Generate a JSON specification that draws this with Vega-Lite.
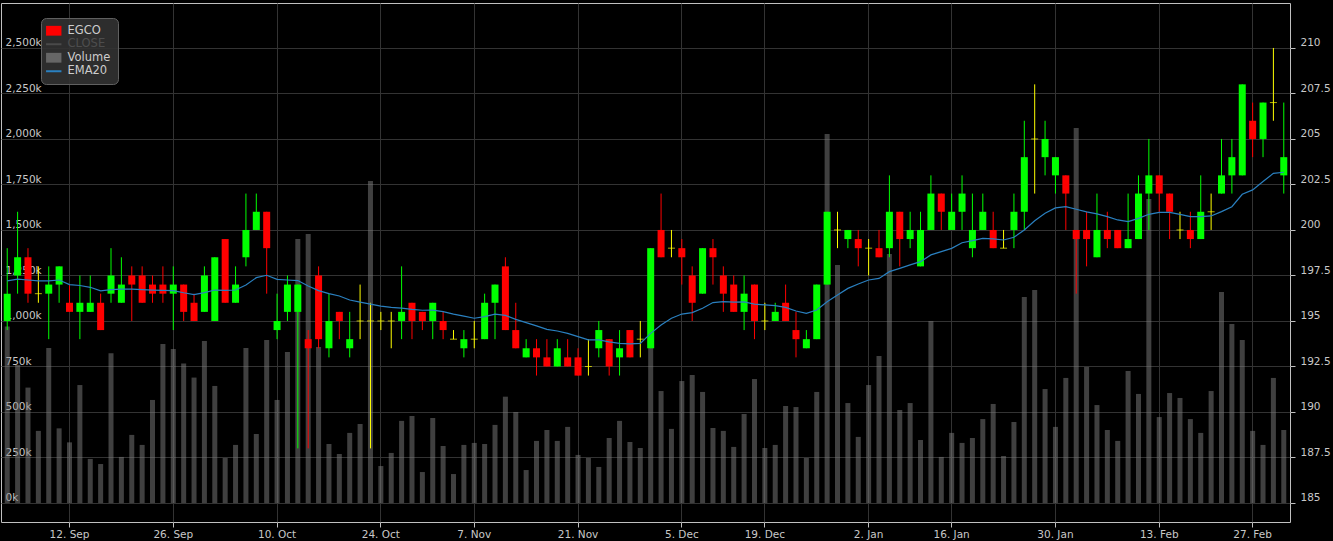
{
  "$schema": "https://vega.github.io/schema/vega-lite/v6.json",
  "width": 1289,
  "height": 519,
  "autosize": {"type": "none"},
  "padding": {"left": 1, "top": 3, "right": 43, "bottom": 19},
  "background": "#000000",
  "config": {
    "view": {"stroke": "#c0c0c0", "strokeWidth": 1},
    "axis": {
      "labelFont": "DejaVu Sans",
      "labelFontSize": 10.5,
      "labelColor": "#c8c8c8",
      "domain": false,
      "gridColor": "#333333",
      "gridWidth": 1,
      "tickColor": "#c0c0c0",
      "tickWidth": 1
    }
  },
  "data": {
    "values": [
      {"date": "2016-09-02", "open": 195, "high": 199, "low": 194.5, "close": 196.5, "volume": 969000, "ema": 197.2},
      {"date": "2016-09-05", "open": 197.5, "high": 201, "low": 196.5, "close": 198.5, "volume": 758000, "ema": 197.3},
      {"date": "2016-09-06", "open": 198.5, "high": 199, "low": 196, "close": 196.5, "volume": 634000, "ema": 197.25},
      {"date": "2016-09-07", "open": 196.5, "high": 198, "low": 196, "close": 196.5, "volume": 396000, "ema": 197.2},
      {"date": "2016-09-08", "open": 196.5, "high": 198, "low": 194, "close": 197, "volume": 852000, "ema": 197.2},
      {"date": "2016-09-09", "open": 197, "high": 198, "low": 196, "close": 198, "volume": 410000, "ema": 197.25},
      {"date": "2016-09-12", "open": 196, "high": 197, "low": 195.5, "close": 195.5, "volume": 333000, "ema": 197.0},
      {"date": "2016-09-13", "open": 195.5, "high": 197.5, "low": 194, "close": 196, "volume": 648000, "ema": 196.95},
      {"date": "2016-09-14", "open": 195.5, "high": 197.5, "low": 195.5, "close": 196, "volume": 242000, "ema": 196.85},
      {"date": "2016-09-15", "open": 196, "high": 196.5, "low": 194.5, "close": 194.5, "volume": 214000, "ema": 196.65},
      {"date": "2016-09-16", "open": 196.5, "high": 199, "low": 196, "close": 197.5, "volume": 822000, "ema": 196.72},
      {"date": "2016-09-19", "open": 196, "high": 198.5, "low": 196, "close": 197, "volume": 253000, "ema": 196.75},
      {"date": "2016-09-20", "open": 197.5, "high": 198, "low": 195, "close": 197, "volume": 374000, "ema": 196.75},
      {"date": "2016-09-21", "open": 197.5, "high": 198, "low": 196, "close": 196, "volume": 319000, "ema": 196.72},
      {"date": "2016-09-22", "open": 197, "high": 197.5, "low": 196, "close": 196.5, "volume": 566000, "ema": 196.7},
      {"date": "2016-09-23", "open": 197, "high": 198, "low": 196, "close": 196.5, "volume": 874000, "ema": 196.68},
      {"date": "2016-09-26", "open": 196.5, "high": 198, "low": 194.5, "close": 197, "volume": 846000, "ema": 196.67},
      {"date": "2016-09-27", "open": 197, "high": 197, "low": 195, "close": 195.5, "volume": 767000, "ema": 196.55},
      {"date": "2016-09-28", "open": 196, "high": 196.5, "low": 195, "close": 195, "volume": 689000, "ema": 196.45},
      {"date": "2016-09-29", "open": 195.5, "high": 198, "low": 195.5, "close": 197.5, "volume": 890000, "ema": 196.56},
      {"date": "2016-09-30", "open": 195, "high": 198.5, "low": 195, "close": 198.5, "volume": 643000, "ema": 196.7},
      {"date": "2016-10-03", "open": 199.5, "high": 199.5, "low": 196, "close": 196, "volume": 247000, "ema": 196.68},
      {"date": "2016-10-04", "open": 196, "high": 198, "low": 196, "close": 197, "volume": 319000, "ema": 196.7},
      {"date": "2016-10-05", "open": 198.5, "high": 202, "low": 198, "close": 200, "volume": 852000, "ema": 196.98},
      {"date": "2016-10-06", "open": 200, "high": 202, "low": 200, "close": 201, "volume": 379000, "ema": 197.38},
      {"date": "2016-10-07", "open": 201, "high": 201, "low": 196.5, "close": 199, "volume": 896000, "ema": 197.51},
      {"date": "2016-10-10", "open": 194.5, "high": 196.5, "low": 194, "close": 195, "volume": 566000, "ema": 197.29},
      {"date": "2016-10-11", "open": 195.5, "high": 197.5, "low": 195, "close": 197, "volume": 830000, "ema": 197.25},
      {"date": "2016-10-12", "open": 195.5, "high": 197, "low": 188, "close": 197, "volume": 1450000, "ema": 197.22},
      {"date": "2016-10-13", "open": 194, "high": 194.5, "low": 188, "close": 193.5, "volume": 1478000, "ema": 196.92},
      {"date": "2016-10-14", "open": 197.5, "high": 198, "low": 193.5, "close": 194, "volume": 857000, "ema": 196.67},
      {"date": "2016-10-17", "open": 193.5, "high": 196.5, "low": 193, "close": 195, "volume": 324000, "ema": 196.5},
      {"date": "2016-10-18", "open": 195.5, "high": 195.5, "low": 194, "close": 195, "volume": 269000, "ema": 196.37},
      {"date": "2016-10-19", "open": 193.5, "high": 195.5, "low": 193, "close": 194, "volume": 385000, "ema": 196.15},
      {"date": "2016-10-20", "open": 195, "high": 197, "low": 194, "close": 195, "volume": 434000, "ema": 196.04},
      {"date": "2016-10-21", "open": 195, "high": 196, "low": 188, "close": 195, "volume": 1769000, "ema": 195.93},
      {"date": "2016-10-25", "open": 195, "high": 195.5, "low": 194.5, "close": 195, "volume": 203000, "ema": 195.82},
      {"date": "2016-10-26", "open": 195, "high": 195.5, "low": 193.5, "close": 195, "volume": 275000, "ema": 195.75},
      {"date": "2016-10-27", "open": 195, "high": 198, "low": 194, "close": 195.5, "volume": 451000, "ema": 195.71},
      {"date": "2016-10-28", "open": 196, "high": 196, "low": 194, "close": 195, "volume": 478000, "ema": 195.64},
      {"date": "2016-10-31", "open": 195.5, "high": 195.5, "low": 194.5, "close": 195, "volume": 170000, "ema": 195.59},
      {"date": "2016-11-01", "open": 195, "high": 196, "low": 194, "close": 196, "volume": 467000, "ema": 195.6},
      {"date": "2016-11-02", "open": 195, "high": 195.5, "low": 194, "close": 194.5, "volume": 313000, "ema": 195.51},
      {"date": "2016-11-03", "open": 194, "high": 194.5, "low": 194, "close": 194, "volume": 159000, "ema": 195.38},
      {"date": "2016-11-04", "open": 193.5, "high": 194.5, "low": 193, "close": 194, "volume": 319000, "ema": 195.27},
      {"date": "2016-11-07", "open": 194, "high": 195, "low": 193.5, "close": 194, "volume": 330000, "ema": 195.15},
      {"date": "2016-11-08", "open": 194, "high": 196.5, "low": 194, "close": 196, "volume": 324000, "ema": 195.24},
      {"date": "2016-11-09", "open": 196, "high": 197, "low": 194, "close": 197, "volume": 429000, "ema": 195.38},
      {"date": "2016-11-10", "open": 198, "high": 198.5, "low": 194.5, "close": 194.5, "volume": 584000, "ema": 195.31},
      {"date": "2016-11-11", "open": 194.5, "high": 196, "low": 193.5, "close": 193.5, "volume": 500000, "ema": 195.09},
      {"date": "2016-11-14", "open": 193, "high": 194, "low": 193, "close": 193.5, "volume": 181000, "ema": 194.91},
      {"date": "2016-11-15", "open": 193.5, "high": 194, "low": 192, "close": 193, "volume": 341000, "ema": 194.73},
      {"date": "2016-11-16", "open": 193, "high": 194, "low": 192.5, "close": 192.5, "volume": 401000, "ema": 194.54},
      {"date": "2016-11-17", "open": 192.5, "high": 194, "low": 192.5, "close": 193.5, "volume": 341000, "ema": 194.45},
      {"date": "2016-11-18", "open": 193, "high": 194, "low": 192.5, "close": 192.5, "volume": 418000, "ema": 194.32},
      {"date": "2016-11-21", "open": 193, "high": 193.5, "low": 192, "close": 192, "volume": 264000, "ema": 194.14},
      {"date": "2016-11-22", "open": 192.5, "high": 194, "low": 192, "close": 192.5, "volume": 247000, "ema": 193.96},
      {"date": "2016-11-23", "open": 193.5, "high": 195, "low": 193, "close": 194.5, "volume": 198000, "ema": 193.96},
      {"date": "2016-11-24", "open": 194, "high": 194, "low": 192, "close": 192.5, "volume": 357000, "ema": 193.85},
      {"date": "2016-11-25", "open": 193, "high": 194.5, "low": 192, "close": 193.5, "volume": 451000, "ema": 193.77},
      {"date": "2016-11-28", "open": 194.5, "high": 194.5, "low": 193, "close": 193, "volume": 335000, "ema": 193.74},
      {"date": "2016-11-29", "open": 194, "high": 195, "low": 193, "close": 194, "volume": 302000, "ema": 193.77},
      {"date": "2016-11-30", "open": 193.5, "high": 199, "low": 193.5, "close": 199, "volume": 860000, "ema": 194.32},
      {"date": "2016-12-01", "open": 200, "high": 202, "low": 198.5, "close": 198.5, "volume": 615000, "ema": 194.78},
      {"date": "2016-12-02", "open": 199, "high": 200, "low": 198.5, "close": 199, "volume": 407000, "ema": 195.15},
      {"date": "2016-12-06", "open": 199, "high": 199.5, "low": 197, "close": 198.5, "volume": 670000, "ema": 195.38},
      {"date": "2016-12-07", "open": 197.5, "high": 198, "low": 195, "close": 196, "volume": 703000, "ema": 195.46},
      {"date": "2016-12-08", "open": 196.5, "high": 199, "low": 196.5, "close": 199, "volume": 610000, "ema": 195.7},
      {"date": "2016-12-09", "open": 199, "high": 199.5, "low": 197, "close": 198.5, "volume": 412000, "ema": 196.01},
      {"date": "2016-12-13", "open": 197.5, "high": 198, "low": 195.5, "close": 196.5, "volume": 396000, "ema": 196.06},
      {"date": "2016-12-14", "open": 197, "high": 197.5, "low": 195.5, "close": 195.5, "volume": 308000, "ema": 196.03},
      {"date": "2016-12-15", "open": 195.5, "high": 197.5, "low": 194.5, "close": 196.5, "volume": 489000, "ema": 196.05},
      {"date": "2016-12-16", "open": 197, "high": 197, "low": 194, "close": 195, "volume": 681000, "ema": 195.93},
      {"date": "2016-12-19", "open": 195, "high": 196, "low": 194.5, "close": 195, "volume": 302000, "ema": 195.88},
      {"date": "2016-12-20", "open": 195, "high": 196, "low": 195, "close": 195.5, "volume": 319000, "ema": 195.84},
      {"date": "2016-12-21", "open": 196, "high": 197, "low": 195, "close": 195, "volume": 533000, "ema": 195.75},
      {"date": "2016-12-22", "open": 194.5, "high": 195.5, "low": 193, "close": 194, "volume": 527000, "ema": 195.55},
      {"date": "2016-12-23", "open": 193.5, "high": 194.5, "low": 193.5, "close": 194, "volume": 247000, "ema": 195.42},
      {"date": "2016-12-26", "open": 194, "high": 197, "low": 194, "close": 197, "volume": 610000, "ema": 195.6},
      {"date": "2016-12-27", "open": 197, "high": 201, "low": 197, "close": 201, "volume": 2027000, "ema": 196.06},
      {"date": "2016-12-28", "open": 200, "high": 201, "low": 199, "close": 200, "volume": 1308000, "ema": 196.43},
      {"date": "2016-12-29", "open": 199.5, "high": 200, "low": 199, "close": 200, "volume": 549000, "ema": 196.79},
      {"date": "2016-12-30", "open": 199.5, "high": 200, "low": 198, "close": 199, "volume": 363000, "ema": 197.03},
      {"date": "2017-01-04", "open": 199, "high": 199.5, "low": 197.5, "close": 199, "volume": 648000, "ema": 197.25},
      {"date": "2017-01-05", "open": 199, "high": 200, "low": 198.5, "close": 198.5, "volume": 807000, "ema": 197.34},
      {"date": "2017-01-06", "open": 199, "high": 203, "low": 198.5, "close": 201, "volume": 1368000, "ema": 197.71},
      {"date": "2017-01-09", "open": 201, "high": 201, "low": 198, "close": 199.5, "volume": 511000, "ema": 197.89},
      {"date": "2017-01-10", "open": 199.5, "high": 201, "low": 199, "close": 200, "volume": 549000, "ema": 198.08},
      {"date": "2017-01-11", "open": 198, "high": 201, "low": 198, "close": 200, "volume": 346000, "ema": 198.26},
      {"date": "2017-01-12", "open": 200, "high": 203, "low": 200, "close": 202, "volume": 1000000, "ema": 198.63},
      {"date": "2017-01-13", "open": 202, "high": 202, "low": 200, "close": 201, "volume": 253000, "ema": 198.81},
      {"date": "2017-01-16", "open": 200, "high": 202, "low": 200, "close": 201, "volume": 385000, "ema": 198.99},
      {"date": "2017-01-17", "open": 201, "high": 203, "low": 200, "close": 202, "volume": 330000, "ema": 199.3},
      {"date": "2017-01-18", "open": 199, "high": 202, "low": 198.5, "close": 200, "volume": 357000, "ema": 199.41},
      {"date": "2017-01-19", "open": 200, "high": 202, "low": 200, "close": 201, "volume": 461000, "ema": 199.54},
      {"date": "2017-01-20", "open": 200, "high": 201, "low": 199, "close": 199, "volume": 544000, "ema": 199.51},
      {"date": "2017-01-23", "open": 199, "high": 200, "low": 199, "close": 199, "volume": 258000, "ema": 199.45},
      {"date": "2017-01-24", "open": 200, "high": 202, "low": 199, "close": 201, "volume": 445000, "ema": 199.6},
      {"date": "2017-01-25", "open": 201, "high": 206, "low": 200, "close": 204, "volume": 1132000, "ema": 200.0},
      {"date": "2017-01-26", "open": 205, "high": 208, "low": 202, "close": 205, "volume": 1170000, "ema": 200.51},
      {"date": "2017-01-27", "open": 204, "high": 206, "low": 203, "close": 205, "volume": 626000, "ema": 200.92},
      {"date": "2017-01-30", "open": 203, "high": 204, "low": 202, "close": 204, "volume": 418000, "ema": 201.21},
      {"date": "2017-01-31", "open": 203, "high": 203, "low": 200, "close": 202, "volume": 687000, "ema": 201.28},
      {"date": "2017-02-01", "open": 200, "high": 200, "low": 196.5, "close": 199.5, "volume": 2060000, "ema": 201.14},
      {"date": "2017-02-02", "open": 200, "high": 201, "low": 198, "close": 199.5, "volume": 747000, "ema": 200.99},
      {"date": "2017-02-03", "open": 198.5, "high": 202, "low": 198.5, "close": 200, "volume": 538000, "ema": 200.88},
      {"date": "2017-02-06", "open": 200, "high": 201, "low": 199, "close": 199.5, "volume": 401000, "ema": 200.73},
      {"date": "2017-02-07", "open": 200, "high": 200, "low": 199, "close": 199, "volume": 341000, "ema": 200.55},
      {"date": "2017-02-08", "open": 199, "high": 202, "low": 199, "close": 199.5, "volume": 725000, "ema": 200.46},
      {"date": "2017-02-09", "open": 199.5, "high": 203, "low": 199.5, "close": 202, "volume": 599000, "ema": 200.64},
      {"date": "2017-02-10", "open": 202, "high": 205, "low": 200, "close": 203, "volume": 1670000, "ema": 200.86},
      {"date": "2017-02-14", "open": 203, "high": 203, "low": 201, "close": 202, "volume": 472000, "ema": 200.97},
      {"date": "2017-02-15", "open": 202, "high": 202, "low": 199.5, "close": 201, "volume": 604000, "ema": 200.97},
      {"date": "2017-02-16", "open": 200, "high": 201, "low": 199.5, "close": 200, "volume": 577000, "ema": 200.86},
      {"date": "2017-02-17", "open": 200, "high": 201, "low": 199, "close": 199.5, "volume": 461000, "ema": 200.73},
      {"date": "2017-02-20", "open": 199.5, "high": 203, "low": 199.5, "close": 201, "volume": 385000, "ema": 200.73},
      {"date": "2017-02-21", "open": 201, "high": 202, "low": 200, "close": 201, "volume": 615000, "ema": 200.77},
      {"date": "2017-02-22", "open": 202, "high": 205, "low": 202, "close": 203, "volume": 1159000, "ema": 201.01},
      {"date": "2017-02-23", "open": 203, "high": 205, "low": 202, "close": 204, "volume": 983000, "ema": 201.28},
      {"date": "2017-02-24", "open": 203, "high": 208, "low": 203, "close": 208, "volume": 896000, "ema": 201.96},
      {"date": "2017-02-27", "open": 206, "high": 207, "low": 204, "close": 205, "volume": 396000, "ema": 202.2},
      {"date": "2017-02-28", "open": 205, "high": 207, "low": 204, "close": 207, "volume": 319000, "ema": 202.66},
      {"date": "2017-03-01", "open": 207, "high": 210, "low": 206, "close": 207, "volume": 687000, "ema": 203.11},
      {"date": "2017-03-02", "open": 203, "high": 207, "low": 202, "close": 204, "volume": 401000, "ema": 203.17}
    ]
  },
  "layer": [
    {
      "mark": {"type": "bar", "size": 5, "color": "#808080", "opacity": 0.5},
      "encoding": {
        "x": {
          "field": "date", "type": "ordinal", "title": null,
          "scale": {"type": "band", "paddingInner": 0, "paddingOuter": 0.1},
          "axis": {
            "orient": "bottom",
            "values": ["2016-09-12", "2016-09-26", "2016-10-10", "2016-10-25", "2016-11-07", "2016-11-21", "2016-12-06", "2016-12-19", "2017-01-04", "2017-01-16", "2017-01-30", "2017-02-14", "2017-02-27"],
            "labelExpr": "({'2016-09-12':'12. Sep','2016-09-26':'26. Sep','2016-10-10':'10. Oct','2016-10-25':'24. Oct','2016-11-07':'7. Nov','2016-11-21':'21. Nov','2016-12-06':'5. Dec','2016-12-19':'19. Dec','2017-01-04':'2. Jan','2017-01-16':'16. Jan','2017-01-30':'30. Jan','2017-02-14':'13. Feb','2017-02-27':'27. Feb'})[datum.value]",
            "labelAngle": 0,
            "grid": true,
            "bandPosition": 0.5,
            "ticks": true,
            "tickSize": 5,
            "labelPadding": 2,
            "labelOverlap": false
          }
        },
        "y": {
          "field": "volume", "type": "quantitative", "title": null,
          "scale": {"domain": [-104500, 2747000], "nice": false, "zero": false},
          "axis": {
            "orient": "left",
            "values": [0, 250000, 500000, 750000, 1000000, 1250000, 1500000, 1750000, 2000000, 2250000, 2500000],
            "labelExpr": "format(datum.value / 1000, ',') + 'k'",
            "grid": false,
            "ticks": false,
            "tickSize": 0,
            "labelAlign": "left",
            "labelPadding": -4,
            "labelBaseline": "alphabetic",
            "labelOffset": -2,
            "labelOverlap": false
          }
        }
      }
    },
    {
      "layer": [
        {
          "mark": {"type": "rule", "strokeWidth": 1},
          "encoding": {
            "x": {"field": "date", "type": "ordinal", "title": null},
            "y": {
              "field": "low", "type": "quantitative", "title": null,
              "scale": {"domain": [183.955, 212.47], "nice": false, "zero": false},
              "axis": {
                "orient": "right",
                "values": [185, 187.5, 190, 192.5, 195, 197.5, 200, 202.5, 205, 207.5, 210],
                "labelExpr": "format(datum.value, '.1~f')",
                "grid": true,
                "ticks": true,
                "tickSize": 5,
                "labelPadding": 5,
                "labelAlign": "left",
                "labelBaseline": "alphabetic",
                "labelOffset": -2,
                "labelOverlap": false
              }
            },
            "y2": {"field": "high"},
            "color": {
              "condition": [
                {"test": "datum.close > datum.open", "value": "#00ff00"},
                {"test": "datum.close < datum.open", "value": "#ff0000"}
              ],
              "value": "#ffff00"
            }
          }
        },
        {
          "mark": {"type": "bar", "size": 7},
          "encoding": {
            "x": {"field": "date", "type": "ordinal", "title": null},
            "y": {"field": "open", "type": "quantitative", "title": null},
            "y2": {"field": "close"},
            "color": {
              "condition": [
                {"test": "datum.close > datum.open", "value": "#00ff00"},
                {"test": "datum.close < datum.open", "value": "#ff0000"}
              ],
              "value": "#ffff00"
            }
          }
        },
        {
          "transform": [{"filter": "datum.open == datum.close"}],
          "mark": {"type": "tick", "thickness": 1, "size": 7, "color": "#ffff00"},
          "encoding": {
            "x": {"field": "date", "type": "ordinal", "title": null},
            "y": {"field": "close", "type": "quantitative", "title": null}
          }
        },
        {
          "mark": {"type": "line", "strokeWidth": 1.2},
          "encoding": {
            "x": {"field": "date", "type": "ordinal", "title": null},
            "y": {"field": "ema", "type": "quantitative", "title": null},
            "color": {
              "datum": "EMA20", "type": "nominal",
              "scale": {"domain": ["EGCO", "CLOSE", "Volume", "EMA20"], "range": ["#ff0000", "#4a4a4a", "#666666", "#2a80c0"]},
              "legend": {
                "title": null,
                "orient": "none",
                "legendX": 40,
                "legendY": 15,
                "direction": "vertical",
                "fillColor": "rgba(50,50,50,0.9)",
                "strokeColor": "#606060",
                "cornerRadius": 5,
                "padding": 7,
                "labelFont": "DejaVu Sans",
                "labelFontSize": 11.5,
                "labelColor": "#cccccc",
                "labelOffset": 8,
                "symbolSize": 196,
                "rowPadding": 0.5,
                "symbolStrokeWidth": 2,
                "symbolOpacity": 1,
                "encode": {
                  "symbols": {
                    "update": {
                      "shape": {"signal": "datum.value === 'EGCO' || datum.value === 'Volume' ? 'M-1.1,-0.7H1.1V0.7H-1.1Z' : 'M-1.1,0H1.1'"},
                      "fill": {"signal": "datum.value === 'EGCO' ? '#ff0000' : datum.value === 'Volume' ? '#666666' : 'transparent'"},
                      "stroke": {"signal": "datum.value === 'CLOSE' ? '#4a4a4a' : datum.value === 'EMA20' ? '#2a80c0' : 'transparent'"},
                      "strokeWidth": {"signal": "datum.value === 'EGCO' || datum.value === 'Volume' ? 0 : 2"}
                    }
                  },
                  "labels": {
                    "update": {
                      "fill": {"signal": "datum.value === 'CLOSE' ? '#4d4d4d' : '#cccccc'"}
                    }
                  }
                }
              }
            }
          }
        }
      ]
    }
  ],
  "resolve": {"scale": {"y": "independent"}}
}
